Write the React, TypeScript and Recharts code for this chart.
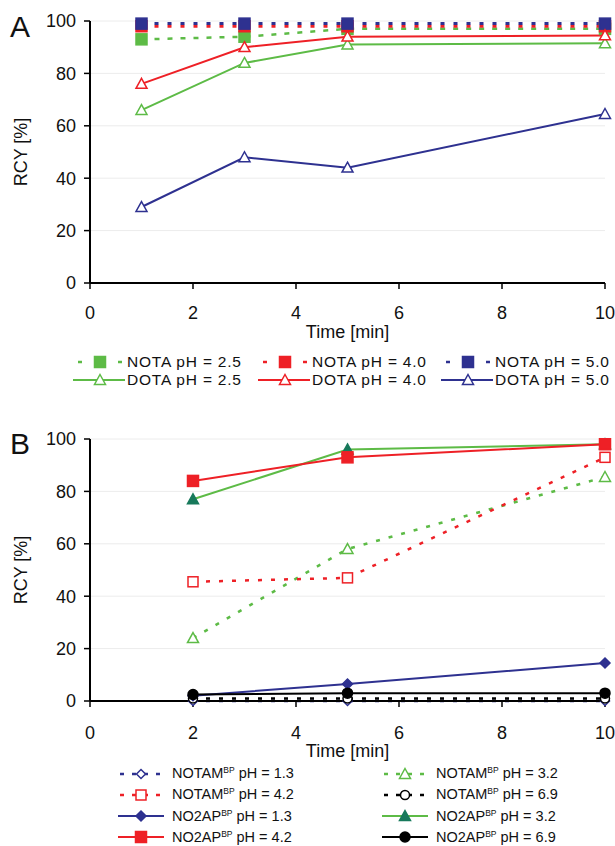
import React from 'react';
import { LineChart, Line, XAxis, YAxis, CartesianGrid, Legend } from 'recharts';

// ---------- data: panel A ----------
const timesA = [1, 3, 5, 10];
const notaPh25 = [93, 94, 97, 97];
const notaPh40 = [98, 98, 98, 98];
const notaPh50 = [99, 99, 99, 99];
const dotaPh25 = [66, 84, 91, 91.5];
const dotaPh40 = [76, 90, 94, 94.5];
const dotaPh50 = [29, 48, 44, 64.5];

// ---------- data: panel B ----------
const timesB = [2, 5, 10];
const notamPh13 = [0, 0, 0];
const notamPh32 = [24, 58, 85.5];
const notamPh42 = [45.5, 47, 93];
const notamPh69 = [1, 1, 1];
const no2apPh13 = [2, 6.5, 14.5];
const no2apPh32 = [77, 96, 98];
const no2apPh42 = [84, 93, 98];
const no2apPh69 = [2.5, 3, 3];

const xTicks = [0, 2, 4, 6, 8, 10];
const yTicks = [0, 20, 40, 60, 80, 100];

// ---------- styles ----------
const GREEN = '#5dbb46';
const RED = '#ee2026';
const NAVY = '#2e3190';
const TEAL = '#17795b';
const BLACK = '#000000';
const FONT = '"Liberation Sans", Arial, Helvetica, sans-serif';
const TEXT = '#111111';

type Shape = 'square' | 'triangle' | 'diamond' | 'circle';

interface Series {
  key: string;
  name: string;
  sup?: string;
  rest?: string;
  values: number[];
  color: string;
  width: number;
  dash?: string;
  shape: Shape;
  fill: string;
  mstroke: string;
  size: number;
}

const seriesA: Series[] = [
  { key: 'notaPh25', name: 'NOTA pH = 2.5', values: notaPh25, color: GREEN, width: 2.5, dash: '5 8', shape: 'square', fill: GREEN, mstroke: GREEN, size: 11 },
  { key: 'notaPh40', name: 'NOTA pH = 4.0', values: notaPh40, color: RED, width: 3, dash: '4 9', shape: 'square', fill: RED, mstroke: RED, size: 11 },
  { key: 'notaPh50', name: 'NOTA pH = 5.0', values: notaPh50, color: NAVY, width: 3, dash: '4 9', shape: 'square', fill: NAVY, mstroke: NAVY, size: 11 },
  { key: 'dotaPh25', name: 'DOTA pH = 2.5', values: dotaPh25, color: GREEN, width: 2, shape: 'triangle', fill: '#ffffff', mstroke: GREEN, size: 11 },
  { key: 'dotaPh40', name: 'DOTA pH = 4.0', values: dotaPh40, color: RED, width: 2, shape: 'triangle', fill: '#ffffff', mstroke: RED, size: 11 },
  { key: 'dotaPh50', name: 'DOTA pH = 5.0', values: dotaPh50, color: NAVY, width: 2, shape: 'triangle', fill: '#ffffff', mstroke: NAVY, size: 11 },
];

const seriesB: Series[] = [
  { key: 'notamPh13', name: 'NOTAM', sup: 'BP', rest: ' pH = 1.3', values: notamPh13, color: NAVY, width: 2.5, dash: '4 9', shape: 'diamond', fill: '#ffffff', mstroke: NAVY, size: 9 },
  { key: 'notamPh32', name: 'NOTAM', sup: 'BP', rest: ' pH = 3.2', values: notamPh32, color: GREEN, width: 2.5, dash: '4 9', shape: 'triangle', fill: '#ffffff', mstroke: GREEN, size: 11 },
  { key: 'notamPh42', name: 'NOTAM', sup: 'BP', rest: ' pH = 4.2', values: notamPh42, color: RED, width: 2.5, dash: '4 9', shape: 'square', fill: '#ffffff', mstroke: RED, size: 10 },
  { key: 'notamPh69', name: 'NOTAM', sup: 'BP', rest: ' pH = 6.9', values: notamPh69, color: BLACK, width: 2.5, dash: '4 9', shape: 'circle', fill: '#ffffff', mstroke: BLACK, size: 9 },
  { key: 'no2apPh13', name: 'NO2AP', sup: 'BP', rest: ' pH = 1.3', values: no2apPh13, color: NAVY, width: 2, shape: 'diamond', fill: NAVY, mstroke: NAVY, size: 10 },
  { key: 'no2apPh32', name: 'NO2AP', sup: 'BP', rest: ' pH = 3.2', values: no2apPh32, color: GREEN, width: 2, shape: 'triangle', fill: TEAL, mstroke: TEAL, size: 11 },
  { key: 'no2apPh42', name: 'NO2AP', sup: 'BP', rest: ' pH = 4.2', values: no2apPh42, color: RED, width: 2, shape: 'square', fill: RED, mstroke: RED, size: 11 },
  { key: 'no2apPh69', name: 'NO2AP', sup: 'BP', rest: ' pH = 6.9', values: no2apPh69, color: BLACK, width: 2, shape: 'circle', fill: BLACK, mstroke: BLACK, size: 10 },
];

const legendRowsA = [
  ['notaPh25', 'notaPh40', 'notaPh50'],
  ['dotaPh25', 'dotaPh40', 'dotaPh50'],
];
const legendColsB = [
  ['notamPh13', 'notamPh42', 'no2apPh13', 'no2apPh42'],
  ['notamPh32', 'notamPh69', 'no2apPh32', 'no2apPh69'],
];

const dataA = timesA.map((t, i) => {
  const row: Record<string, number> = { t };
  seriesA.forEach((s) => (row[s.key] = s.values[i]));
  return row;
});
const dataB = timesB.map((t, i) => {
  const row: Record<string, number> = { t };
  seriesB.forEach((s) => (row[s.key] = s.values[i]));
  return row;
});

function MarkerShape({ cx, cy, s }: { cx: number; cy: number; s: Series }) {
  const h = s.size / 2;
  const common = { fill: s.fill, stroke: s.mstroke, strokeWidth: 1.5 };
  if (cx == null || cy == null || isNaN(cx) || isNaN(cy)) return null;
  switch (s.shape) {
    case 'square':
      return <rect x={cx - h} y={cy - h} width={s.size} height={s.size} {...common} />;
    case 'triangle':
      return <polygon points={`${cx},${cy - h} ${cx + h},${cy + h * 0.8} ${cx - h},${cy + h * 0.8}`} {...common} />;
    case 'diamond':
      return <polygon points={`${cx},${cy - h} ${cx + h},${cy} ${cx},${cy + h} ${cx - h},${cy}`} {...common} />;
    default:
      return <circle cx={cx} cy={cy} r={h} {...common} />;
  }
}

function makeDot(s: Series) {
  return (p: any) => (
    <g key={`${s.key}-dot-${p.index}`}>
      <MarkerShape cx={p.cx} cy={p.cy} s={s} />
    </g>
  );
}

// Legend icon for panel A: "- ■ -" (dashed) or "—△—" (solid)
function LegendIconA({ s }: { s: Series }) {
  const w = 52;
  const h = 16;
  const cx = 27;
  return (
    <svg width={w} height={h} style={{ display: 'block', flex: 'none' }}>
      {s.dash ? (
        <g stroke={s.color} strokeWidth={2.5}>
          <line x1={5} x2={9} y1={h / 2} y2={h / 2} />
          <line x1={45} x2={49} y1={h / 2} y2={h / 2} />
        </g>
      ) : (
        <line x1={0} x2={w} y1={h / 2} y2={h / 2} stroke={s.color} strokeWidth={2} />
      )}
      <MarkerShape cx={cx} cy={h / 2} s={s} />
    </svg>
  );
}

function LegendIconB({ s }: { s: Series }) {
  const w = 46;
  const h = 16;
  return (
    <svg width={w} height={h} style={{ display: 'block', flex: 'none' }}>
      <line
        x1={s.dash ? 2 : 0}
        x2={w}
        y1={h / 2}
        y2={h / 2}
        stroke={s.color}
        strokeWidth={s.dash ? 2.5 : 2}
        strokeDasharray={s.dash ? '4 8' : undefined}
      />
      <MarkerShape cx={w / 2} cy={h / 2} s={s} />
    </svg>
  );
}

function LegendA() {
  const cols = [73, 258, 441];
  return (
    <div style={{ position: 'relative', width: 615, height: 36, fontFamily: FONT }}>
      {legendRowsA.map((row, r) =>
        row.map((key, c) => {
          const s = seriesA.find((x) => x.key === key)!;
          return (
            <div
              key={key}
              style={{ position: 'absolute', left: cols[c], top: r * 18, height: 18, display: 'flex', alignItems: 'center' }}
            >
              <LegendIconA s={s} />
              <span
                style={{
                  display: 'inline-block',
                  height: 18,
                  fontSize: 15.5,
                  letterSpacing: '0.8px',
                  lineHeight: '18px',
                  color: TEXT,
                  whiteSpace: 'nowrap',
                  marginLeft: 2,
                }}
              >
                {s.name}
              </span>
            </div>
          );
        })
      )}
    </div>
  );
}

function LegendB() {
  const cols = [118, 382];
  return (
    <div style={{ position: 'relative', width: 615, height: 86, fontFamily: FONT }}>
      {legendColsB.map((col, c) =>
        col.map((key, r) => {
          const s = seriesB.find((x) => x.key === key)!;
          return (
            <div
              key={key}
              style={{ position: 'absolute', left: cols[c], top: r * 21.3, height: 21, display: 'flex', alignItems: 'center' }}
            >
              <LegendIconB s={s} />
              <span style={{ display: 'inline-block', height: 21, fontSize: 14.5, lineHeight: '21px', color: TEXT, whiteSpace: 'nowrap', marginLeft: 8 }}>
                {s.name}
                <sup style={{ fontSize: 8.5, lineHeight: 0, verticalAlign: '5px' }}>{s.sup}</sup>
                {s.rest}
              </span>
            </div>
          );
        })
      )}
    </div>
  );
}

const yLabel = (props: any) => {
  const vb = props.viewBox || { y: 21, height: 262 };
  const cy = vb.y + vb.height / 2;
  return (
    <text x={27} y={cy} transform={`rotate(-90 27 ${cy})`} textAnchor="middle" fontSize={18} fill={TEXT} fontFamily={FONT}>
      RCY [%]
    </text>
  );
};

function Panel({ data, series, height, marginBottom, tickMargin, labelOffset, legend, legendTop }: any) {
  return (
    <LineChart width={615} height={height} data={data} margin={{ top: 21, right: 10, bottom: marginBottom, left: 0 }} style={{ fontFamily: FONT }}>
      <CartesianGrid vertical={false} stroke="#ececec" strokeWidth={1} />
      <XAxis
        type="number"
        dataKey="t"
        domain={[0, 10]}
        ticks={xTicks}
        interval={0}
        height={60}
        tickSize={6}
        tickMargin={tickMargin}
        axisLine={{ stroke: '#000', strokeWidth: 2 }}
        tickLine={{ stroke: '#000', strokeWidth: 1.5 }}
        tick={{ fill: TEXT, fontSize: 18, fontFamily: FONT }}
        label={{ value: 'Time [min]', position: 'insideBottom', offset: labelOffset, fill: TEXT, fontSize: 18, fontFamily: FONT }}
      />
      <YAxis
        type="number"
        domain={[0, 100]}
        ticks={yTicks}
        interval={0}
        width={90}
        tickSize={6}
        tickMargin={8}
        axisLine={{ stroke: '#000', strokeWidth: 2 }}
        tickLine={{ stroke: '#000', strokeWidth: 1.5 }}
        tick={{ fill: TEXT, fontSize: 18, fontFamily: FONT }}
        label={{ content: yLabel }}
      />
      <Legend
        layout="horizontal"
        verticalAlign="middle"
        align="center"
        wrapperStyle={{ top: legendTop, left: 0, width: 615 }}
        content={() => legend}
      />
      {series.map((s: Series) => (
        <Line
          key={s.key}
          type="linear"
          dataKey={s.key}
          name={s.key}
          stroke={s.color}
          strokeWidth={s.width}
          strokeDasharray={s.dash}
          dot={makeDot(s)}
          activeDot={false}
          isAnimationActive={false}
        />
      ))}
    </LineChart>
  );
}

export default function App() {
  return (
    <div style={{ position: 'absolute', left: 0, top: 0, width: 615, height: 846, background: '#fff', overflow: 'hidden', fontFamily: FONT }}>
      <div style={{ position: 'absolute', left: 0, top: 0 }}>
        <Panel data={dataA} series={seriesA} height={400} marginBottom={57} tickMargin={17} labelOffset={5} legend={<LegendA />} legendTop={353} />
      </div>
      <div style={{ position: 'absolute', left: 0, top: 418 }}>
        <Panel data={dataB} series={seriesB} height={428} marginBottom={85} tickMargin={19} labelOffset={4} legend={<LegendB />} legendTop={345} />
      </div>
      <svg width={615} height={846} style={{ position: 'absolute', left: 0, top: 0, pointerEvents: 'none' }}>
        <text x={10} y={37} fontSize={30} fill={TEXT} fontFamily={FONT}>A</text>
        <text x={10} y={454} fontSize={30} fill={TEXT} fontFamily={FONT}>B</text>
      </svg>
    </div>
  );
}
